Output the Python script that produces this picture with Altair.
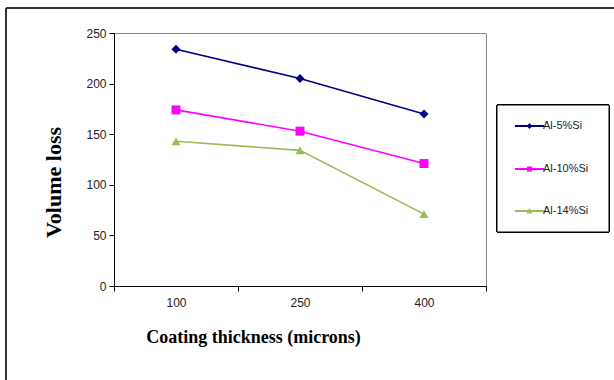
import altair as alt
import pandas as pd

thickness = ["100", "250", "400"]
series = ["Al-5%Si", "Al-10%Si", "Al-14%Si"]
al5 = [234, 205, 170]
al10 = [174, 153, 121]
al14 = [143, 134, 71]
colors = ["#000080", "#FF00FF", "#9BBB59"]
markers = ["diamond", "square", "triangle-up"]

rows = []
for name, vals in zip(series, [al5, al10, al14]):
    for t, v in zip(thickness, vals):
        rows.append({"thickness": t, "series": name, "entry": name, "loss": v})
df = pd.DataFrame(rows)

# legend symbols: filled line segment + marker, custom paths in unit space (all clockwise)
seg = "M-0.19,-0.055L1.63,-0.055L1.63,0.055L-0.19,0.055Z"
leg_paths = [
    seg + "M0.72,-0.18L0.89,0L0.72,0.18L0.55,0Z",
    seg + "M0.56,-0.16L0.88,-0.16L0.88,0.16L0.56,0.16Z",
    seg + "M0.72,-0.19L0.91,0.15L0.53,0.15Z",
]
leg_y = [72, 115, 157]

tick_font = "Liberation Sans"
title_font = "Liberation Serif"

x_enc = alt.X(
    "thickness:N",
    sort=thickness,
    bandPosition=0.5,
    scale=alt.Scale(type="band", paddingInner=0, paddingOuter=0),
    axis=alt.Axis(
        title="Coating thickness (microns)",
        labelAngle=0,
        tickBand="extent",
        domainColor="black",
        tickColor="black",
        tickSize=5,
        labelPadding=6,
        labelFont=tick_font,
        labelFontSize=12,
        labelColor="#222",
        titleFont=title_font,
        titleFontSize=18,
        titleFontWeight="bold",
        titleColor="black",
        titlePadding=20,
        titleX=139,
        titleAlign="center",
    ),
)
y_enc = alt.Y(
    "loss:Q",
    scale=alt.Scale(domain=[0, 250], nice=False),
    axis=alt.Axis(
        title="Volume loss",
        values=[0, 50, 100, 150, 200, 250],
        grid=False,
        domainColor="black",
        tickColor="black",
        tickSize=5,
        labelPadding=3,
        labelFont=tick_font,
        labelFontSize=12,
        labelColor="#222",
        titleFont=title_font,
        titleFontSize=22,
        titleFontWeight="bold",
        titleColor="black",
        titlePadding=20,
        titleY=149,
    ),
)
color_scale = alt.Scale(domain=series, range=colors)

lines = alt.Chart(df).mark_line(strokeWidth=1.6).encode(
    x=x_enc,
    y=y_enc,
    color=alt.Color("series:N", scale=color_scale, sort=series, legend=None),
)

point_layers = []
for name, shp in zip(series, markers):
    point_layers.append(
        alt.Chart(df)
        .transform_filter(alt.datum.series == name)
        .mark_point(filled=True, opacity=1, size=80, shape=shp)
        .encode(
            x=x_enc,
            y=y_enc,
            color=alt.Color("series:N", scale=color_scale, sort=series, legend=None),
        )
    )

# legend box (decoration)
legend_box = alt.Chart(df).mark_rect(fill="white", stroke="black", strokeWidth=1).encode(
    x=alt.value(383), x2=alt.value(495), y=alt.value(72), y2=alt.value(199)
)

legend_layers = []
for name, c, path, ly in zip(series, colors, leg_paths, leg_y):
    legend_layers.append(
        alt.Chart(df)
        .transform_filter(alt.datum.series == name)
        .mark_point(filled=True, size=10, fill=c, stroke=c, opacity=0)
        .encode(
            x=x_enc,
            y=y_enc,
            shape=alt.Shape(
                "entry:N",
                scale=alt.Scale(domain=[name], range=[path]),
                legend=alt.Legend(
                    title=None,
                    orient="none",
                    legendX=383,
                    legendY=ly,
                    padding=5,
                    symbolSize=1024,
                    symbolStrokeWidth=0,
                    symbolOpacity=1,
                    symbolFillColor=c,
                    symbolStrokeColor=c,
                    labelOffset=9,
                    labelFont=tick_font,
                    labelFontSize=11,
                    labelColor="#222",
                ),
            ),
        )
    )

frame_top = alt.Chart(df).mark_rule(color="#333", strokeWidth=1).encode(
    x=alt.value(-108), x2=alt.value(520), y=alt.value(-25)
)
frame_left = alt.Chart(df).mark_rule(color="#333", strokeWidth=1).encode(
    x=alt.value(-108), y=alt.value(-25), y2=alt.value(400)
)

chart = (
    alt.layer(frame_top, frame_left, legend_box, lines, *point_layers, *legend_layers)
    .resolve_scale(shape="independent")
    .properties(
        width=372,
        height=253,
        autosize=alt.AutoSizeParams(type="none"),
        padding={"left": 114, "top": 33, "right": 128, "bottom": 94},
        background="white",
    )
    .configure_view(stroke="#888888", strokeWidth=1)
)

chart.save("out.html", embed_options={"renderer": "svg", "actions": False})
